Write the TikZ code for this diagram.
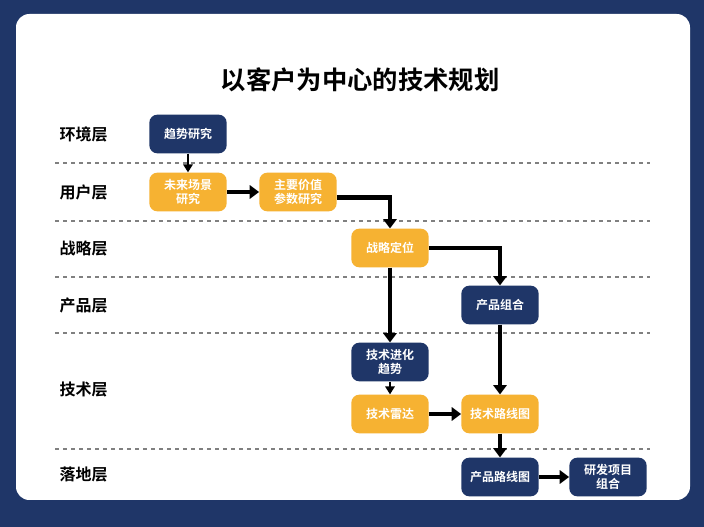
\documentclass[tikz,border=0pt]{standalone}
\usepackage{fontspec}
\setmainfont{Noto Sans CJK SC}[BoldFont={Noto Sans CJK SC Bold}]
\usetikzlibrary{arrows.meta}
\definecolor{navy}{RGB}{31,54,104}
\definecolor{gold}{RGB}{246,178,50}
\tikzset{
  darkbox/.style={draw=none,fill=navy,rounded corners=6pt,minimum width=58pt,minimum height=29pt,inner sep=2pt,text=white,font=\bfseries\small,align=center},
  goldbox/.style={darkbox,fill=gold},
  flow/.style={line width=3.4pt,-{Triangle[length=7pt,width=10pt]}},
  thinflow/.style={line width=2pt,-{Triangle[length=6pt,width=7pt]}},
  layer/.style={font=\bfseries\large,anchor=west},
  divider/.style={dashed,gray,line width=0.8pt}
}
\begin{document}
\begin{tikzpicture}[x=0.75pt,y=-0.75pt]
    \fill[navy] (0,0) rectangle (704,527);
    %Shape: Panel
    \fill[white,rounded corners=10pt] (16,14) rectangle (690,500);

    % Title
    \node[font=\bfseries\fontsize{19}{22}\selectfont] (title) at (360,80) {以客户为中心的技术规划};

    % Layer labels
    \node[layer] (envlabel) at (55,134) {环境层};
    \node[layer] (userlabel) at (55,192) {用户层};
    \node[layer] (stratlabel) at (55,248) {战略层};
    \node[layer] (prodlabel) at (55,305) {产品层};
    \node[layer] (techlabel) at (55,390) {技术层};
    \node[layer] (landlabel) at (55,475) {落地层};

    % Dividers
    \foreach \y in {163,221,277,333,449}
      \draw[divider] (55,\y) -- (650,\y);

    % Boxes
    \node[darkbox] (trend) at (188,134) {趋势研究};
    \node[goldbox] (scene) at (188,192) {未来场景\\研究};
    \node[goldbox] (value) at (298,192) {主要价值\\参数研究};
    \node[goldbox] (position) at (390,248) {战略定位};
    \node[darkbox] (portfolio) at (500,305) {产品组合};
    \node[darkbox] (evolution) at (390,362) {技术进化\\趋势};
    \node[goldbox] (radar) at (390,414) {技术雷达};
    \node[goldbox] (techmap) at (500,414) {技术路线图};
    \node[darkbox] (prodmap) at (500,477) {产品路线图};
    \node[darkbox] (rdset) at (608,477) {研发项目\\组合};

    % Connectors
    \draw[thinflow] (trend) -- (scene);
    \draw[flow] (scene) -- (value);
    \coordinate (valueout) at ([yshift=-4]value.east);
    \draw[flow] (valueout) -- (position.north |- valueout) -- (position.north);
    \draw[flow] (position.east) -- (portfolio.north |- position.east) -- (portfolio.north);
    \draw[flow] (position) -- (evolution);
    \draw[flow] (portfolio) -- (techmap);
    \draw[thinflow] (evolution) -- (radar);
    \draw[flow] (radar) -- (techmap);
    \draw[flow] (techmap) -- (prodmap);
    \draw[flow] (prodmap) -- (rdset);
\end{tikzpicture}
\end{document}
